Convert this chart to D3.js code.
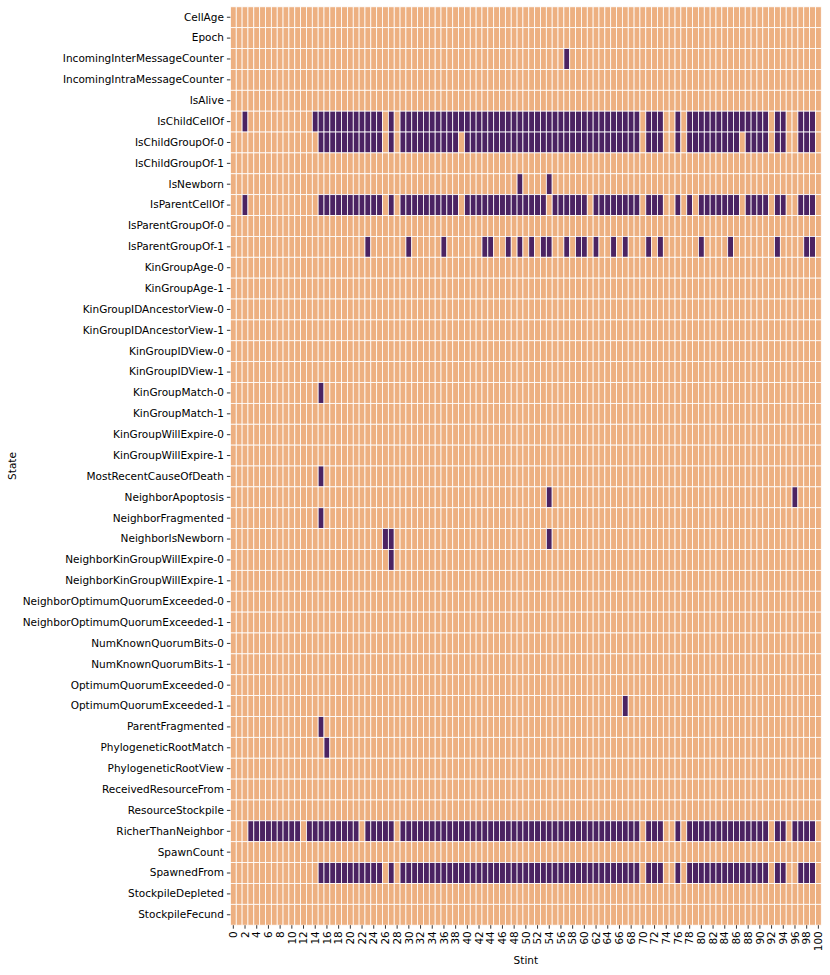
<!DOCTYPE html>
<html>
<head>
<meta charset="utf-8">
<script src="https://cdn.jsdelivr.net/npm/d3@7"></script>
<style>
  body { margin: 0; background: #fff; }
  text { font-family: 'DejaVu Sans', sans-serif; fill: #000; }
</style>
</head>
<body>
<div id="chart"></div>
<script>
const states = [
  'CellAge', 'Epoch', 'IncomingInterMessageCounter', 'IncomingIntraMessageCounter',
  'IsAlive', 'IsChildCellOf', 'IsChildGroupOf-0', 'IsChildGroupOf-1', 'IsNewborn',
  'IsParentCellOf', 'IsParentGroupOf-0', 'IsParentGroupOf-1', 'KinGroupAge-0',
  'KinGroupAge-1', 'KinGroupIDAncestorView-0', 'KinGroupIDAncestorView-1',
  'KinGroupIDView-0', 'KinGroupIDView-1', 'KinGroupMatch-0', 'KinGroupMatch-1',
  'KinGroupWillExpire-0', 'KinGroupWillExpire-1', 'MostRecentCauseOfDeath',
  'NeighborApoptosis', 'NeighborFragmented', 'NeighborIsNewborn',
  'NeighborKinGroupWillExpire-0', 'NeighborKinGroupWillExpire-1',
  'NeighborOptimumQuorumExceeded-0', 'NeighborOptimumQuorumExceeded-1',
  'NumKnownQuorumBits-0', 'NumKnownQuorumBits-1', 'OptimumQuorumExceeded-0',
  'OptimumQuorumExceeded-1', 'ParentFragmented', 'PhylogeneticRootMatch',
  'PhylogeneticRootView', 'ReceivedResourceFrom', 'ResourceStockpile',
  'RicherThanNeighbor', 'SpawnCount', 'SpawnedFrom', 'StockpileDepleted',
  'StockpileFecund'
]

const stints = d3.range(0, 101)
const stintTicks = stints.filter(d => d % 2 === 0)

// runs of stints where the state differs, [first, last] inclusive
const incomingInterMessageCounter = [[57, 57]]
const isChildCellOf = [[2, 2], [14, 25], [27, 27], [29, 69], [71, 73], [76, 76], [78, 91], [93, 94], [97, 99]]
const isChildGroupOf0 = [[15, 25], [27, 27], [29, 38], [40, 69], [71, 73], [76, 76], [78, 86], [88, 91], [93, 94], [97, 99]]
const isNewborn = [[49, 49], [54, 54]]
const isParentCellOf = [[2, 2], [15, 25], [27, 27], [29, 38], [40, 53], [55, 60], [62, 69], [71, 73], [76, 76], [78, 78], [80, 86], [88, 91], [93, 94], [97, 99]]
const isParentGroupOf1 = [[23, 23], [30, 30], [36, 36], [43, 44], [47, 47], [49, 49], [51, 51], [53, 54], [57, 57], [59, 60], [62, 62], [65, 65], [67, 67], [71, 71], [73, 73], [80, 80], [85, 85], [93, 93], [98, 99]]
const kinGroupMatch0 = [[15, 15]]
const mostRecentCauseOfDeath = [[15, 15]]
const neighborApoptosis = [[54, 54], [96, 96]]
const neighborFragmented = [[15, 15]]
const neighborIsNewborn = [[26, 27], [54, 54]]
const neighborKinGroupWillExpire0 = [[27, 27]]
const optimumQuorumExceeded1 = [[67, 67]]
const parentFragmented = [[15, 15]]
const phylogeneticRootMatch = [[16, 16]]
const richerThanNeighbor = [[3, 11], [13, 21], [23, 27], [29, 69], [71, 73], [76, 76], [78, 91], [93, 94], [96, 99]]
const spawnedFrom = [[15, 25], [27, 27], [29, 69], [71, 73], [76, 76], [78, 91], [93, 94], [97, 99]]

const runsByState = new Map([
  ['IncomingInterMessageCounter', incomingInterMessageCounter],
  ['IsChildCellOf', isChildCellOf],
  ['IsChildGroupOf-0', isChildGroupOf0],
  ['IsNewborn', isNewborn],
  ['IsParentCellOf', isParentCellOf],
  ['IsParentGroupOf-1', isParentGroupOf1],
  ['KinGroupMatch-0', kinGroupMatch0],
  ['MostRecentCauseOfDeath', mostRecentCauseOfDeath],
  ['NeighborApoptosis', neighborApoptosis],
  ['NeighborFragmented', neighborFragmented],
  ['NeighborIsNewborn', neighborIsNewborn],
  ['NeighborKinGroupWillExpire-0', neighborKinGroupWillExpire0],
  ['OptimumQuorumExceeded-1', optimumQuorumExceeded1],
  ['ParentFragmented', parentFragmented],
  ['PhylogeneticRootMatch', phylogeneticRootMatch],
  ['RicherThanNeighbor', richerThanNeighbor],
  ['SpawnedFrom', spawnedFrom]
])

const width = 830
const height = 975
const margin = { top: 6.8, left: 230.4, right: 8.7, bottom: 49.8 }
const fontSize = 10.5

const svg = d3
  .select('#chart')
  .append('svg')
  .attr('width', width)
  .attr('height', height)

const x = d3
  .scaleBand()
  .domain(stints)
  .range([margin.left, width - margin.right])

const y = d3
  .scaleBand()
  .domain(states)
  .range([margin.top, height - margin.bottom])

const colorScale = d3.scaleOrdinal().domain([0, 1]).range(['#edb081', '#4b2362'])

const cells = []
states.forEach(state => {
  const runs = runsByState.get(state) || []
  stints.forEach(stint => {
    const on = runs.some(r => stint >= r[0] && stint <= r[1]) ? 1 : 0
    cells.push({ state, stint, value: on })
  })
})

svg
  .append('g')
  .selectAll('rect')
  .data(cells)
  .enter()
  .append('rect')
  .attr('x', d => x(d.stint))
  .attr('y', d => y(d.state))
  .attr('width', x.bandwidth())
  .attr('height', y.bandwidth())
  .attr('fill', d => colorScale(d.value))
  .attr('stroke', '#fff')
  .attr('stroke-width', 0.8)

// y axis
const yAxis = svg
  .append('g')
  .attr('transform', `translate(${margin.left},0)`)
  .call(d3.axisLeft(y).tickSize(3.5).tickPadding(3))
yAxis.select('.domain').remove()
yAxis.selectAll('line').attr('stroke', '#000').attr('stroke-width', 0.8)
yAxis
  .selectAll('text')
  .attr('font-size', fontSize)
  .attr('font-family', 'DejaVu Sans')
  .attr('fill', '#000')

// x axis
const xAxis = svg
  .append('g')
  .attr('transform', `translate(0,${height - margin.bottom})`)
  .call(d3.axisBottom(x).tickValues(stintTicks).tickSize(3.5).tickPadding(2.5))
xAxis.select('.domain').remove()
xAxis.selectAll('line').attr('stroke', '#000').attr('stroke-width', 0.8)
xAxis
  .selectAll('text')
  .attr('font-size', fontSize)
  .attr('font-family', 'DejaVu Sans')
  .attr('fill', '#000')
  .attr('text-anchor', 'end')
  .attr('transform', 'rotate(-90)')
  .attr('x', -6)
  .attr('y', 0)
  .attr('dy', '0.35em')

svg
  .append('text')
  .text('Stint')
  .attr('x', (margin.left + width - margin.right) / 2)
  .attr('y', 964)
  .attr('text-anchor', 'middle')
  .attr('font-size', fontSize)

svg
  .append('text')
  .text('State')
  .attr('transform', `translate(16,${(margin.top + height - margin.bottom) / 2}) rotate(-90)`)
  .attr('text-anchor', 'middle')
  .attr('font-size', fontSize)
</script>
</body>
</html>
